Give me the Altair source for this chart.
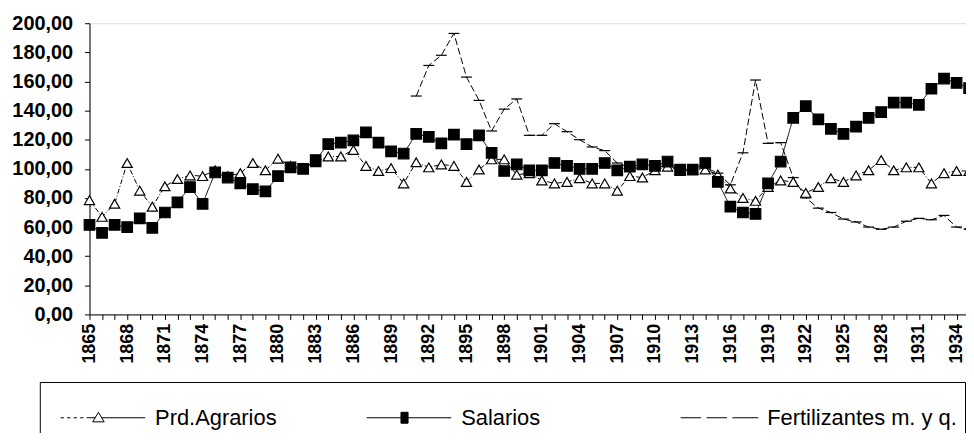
import altair as alt
import pandas as pd

years = list(range(1865, 1936))
prd_agrarios = [78.5, 67, 76, 104, 85, 74, 88, 93, 95.5, 95,
                99, 95, 97, 104, 99, 107, 102, 100.5, 104.5, 108.5,
                108.5, 113, 102, 98.5, 100.5, 90, 104.5, 101, 103, 102,
                91, 99.5, 106.5, 106.5, 96, 97, 92, 90, 91, 93.5,
                90, 90, 85, 95, 94, 99, 101.5, 98.5, 99.5, 99.5,
                96, 86.5, 80, 78, 87.5, 92, 91, 83.5, 87.5, 93.5,
                91, 95.5, 99, 106, 99, 101, 101, 90, 97, 98.5,
                98.5]
salarios = [61.5, 56, 61.5, 60, 66, 59.5, 70, 77, 87.5, 76,
            97.5, 94, 90, 86, 84.5, 95, 101, 100, 106, 117,
            118, 119.5, 125, 118, 112, 110.5, 124, 122, 117.5, 123.5,
            117, 123, 111, 98.5, 103, 99, 99, 104, 102, 100,
            100, 104, 99, 101.5, 103, 102, 105, 99.5, 99.5, 104,
            91, 74, 70, 69, 90, 105, 135, 143, 134, 127.5,
            124, 129, 135, 139, 145.5, 145.5, 144, 155, 162, 159,
            155.5]
fert_years = list(range(1891, 1936))
fertilizantes = [150, 171, 178, 193, 163, 147, 126, 141, 148, 123,
                 123, 131, 125.5, 120, 115, 112.5, 104, 101, 100, 101,
                 102, 100, 100, 101, 97, 89, 111, 161, 117.5, 118,
                 94, 80, 73, 70, 65.5, 63.5, 60, 58.5, 60, 64,
                 66, 65, 68, 60, 58.5]
series_names = ["Prd.Agrarios", "Salarios", "Fertilizantes m. y q."]
y_ticks = list(range(0, 201, 20))

rows = []
for yr, v in zip(years, prd_agrarios):
    rows.append({"year": yr, "serie": series_names[0], "valor": v})
for yr, v in zip(years, salarios):
    rows.append({"year": yr, "serie": series_names[1], "valor": v})
for yr, v in zip(fert_years, fertilizantes):
    rows.append({"year": yr, "serie": series_names[2], "valor": v})
df = pd.DataFrame(rows)

FONT = "Liberation Sans"

x_enc = alt.X(
    "year:Q",
    scale=alt.Scale(domain=[1865, 1934.75], nice=False, zero=False),
    axis=alt.Axis(
        values=years, format="d",
        labelExpr="(datum.value - 1865) % 3 == 0 ? datum.label : ''",
        labelAngle=270, title=None, tickSize=5, labelPadding=4,
        labelFontSize=18, labelFontWeight="bold", labelFont=FONT,
        domainColor="black", tickColor="black", labelColor="black",
        grid=False, labelOverlap=False,
    ),
)
y_enc = alt.Y(
    "valor:Q",
    scale=alt.Scale(domain=[0, 200], nice=False),
    axis=alt.Axis(
        values=y_ticks, title=None, tickSize=5, labelPadding=12,
        labelExpr="replace(format(datum.value, '.2f'), '.', ',')",
        labelFontSize=20, labelFontWeight="bold", labelFont=FONT,
        domainColor="black", tickColor="black", labelColor="black",
        grid=False,
    ),
)

# legend symbols: line + marker drawn as custom symbol paths (unit = half symbol width)
p_prd = ("M-1.39,0L-1.27,0M-1.15,0L-1.03,0M-0.91,0L-0.79,0M-0.67,0L-0.55,0"
         "M-0.43,0L-0.11,0M0,-0.2L0.21,0.15L-0.21,0.15ZM0.11,0L1.72,0")
p_sal = "M-1.39,0L1.72,0M-0.13,-0.2L0.13,-0.2L0.13,0.2L-0.13,0.2Z"
p_fer = "M-1.1,0L-0.35,0M-0.15,0L0.6,0M0.8,0L1.75,0"

legend = alt.Legend(
    title=None, orient="none", legendX=-50, legendY=361,
    direction="horizontal", columns=3, gridAlign="all",
    columnPadding=9, symbolSize=3000, symbolStrokeWidth=1,
    symbolStrokeColor="black", symbolOpacity=1, symbolOffset=23,
    labelFont=FONT, labelFontSize=22,
    labelColor="black", labelOffset=29, labelLimit=400,
    strokeColor="black", padding=8,
)

base = alt.Chart(df)

lines = base.mark_line(strokeWidth=1, color="black").encode(
    x=x_enc, y=y_enc,
    detail="serie:N",
    strokeDash=alt.StrokeDash(
        "serie:N",
        scale=alt.Scale(domain=series_names, range=[[5, 2, 1, 2], [1, 0], [7, 3]]),
        legend=None,
    ),
)

points = base.mark_point(opacity=1, strokeWidth=1.2, stroke="black").encode(
    x=x_enc, y=y_enc,
    shape=alt.Shape(
        "serie:N",
        scale=alt.Scale(domain=series_names, range=["triangle-up", "square", "stroke"]),
        legend=None,
    ),
    fill=alt.Fill(
        "serie:N",
        scale=alt.Scale(domain=series_names, range=["white", "black", "black"]),
        legend=None,
    ),
    size=alt.Size(
        "serie:N",
        scale=alt.Scale(domain=series_names, range=[105, 120, 90]),
        legend=None,
    ),
)

legend_layer = base.transform_filter("datum.year < 0").mark_point(
    opacity=1, strokeWidth=1
).encode(
    x=x_enc, y=y_enc,
    shape=alt.Shape(
        "serie:N",
        scale=alt.Scale(domain=series_names, range=[p_prd, p_sal, p_fer]),
        legend=legend,
    ),
    fill=alt.Fill(
        "serie:N",
        scale=alt.Scale(domain=series_names, range=["white", "black", "black"]),
        legend=legend,
    ),
    stroke=alt.Stroke(
        "serie:N",
        scale=alt.Scale(domain=series_names, range=["black", "black", "black"]),
        legend=legend,
    ),
)

chart = alt.layer(lines, points, legend_layer).resolve_scale(
    shape="independent", fill="independent", size="independent", stroke="independent"
).resolve_legend(shape="independent", fill="independent", stroke="independent").properties(
    width=882, height=293,
    autosize=alt.AutoSizeParams(type="none"),
    padding={"left": 82, "top": 14, "right": 0, "bottom": 118},
).configure_view(stroke=None).configure(background="white")

chart.save("out.html", embed_options={"renderer": "svg", "actions": False})
